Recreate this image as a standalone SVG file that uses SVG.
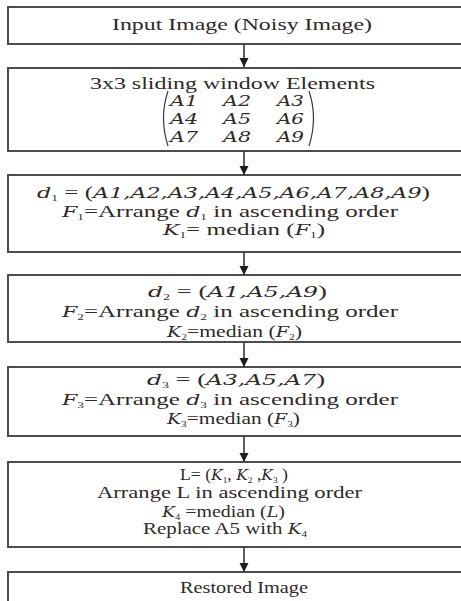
<svg xmlns="http://www.w3.org/2000/svg" width="461" height="601" viewBox="0 0 461 601">
<defs>
<style>
.box{fill:#fff;stroke:#3a3a3a;stroke-width:1.8}
.t{font-family:"Liberation Serif","Times New Roman",serif;font-size:17px;fill:#2e2a26}
.m{font-family:"DejaVu Serif","Liberation Serif",serif;font-style:italic;font-size:15px}
.s{font-size:9px}
.c{stroke:#2a2a2a;stroke-width:1.5;fill:none}
.p{stroke:#3a3a3a;stroke-width:1.2;fill:none}
</style>
<marker id="ah" markerUnits="userSpaceOnUse" markerWidth="10" markerHeight="10" refX="9" refY="5" orient="auto">
<path d="M0,0.5 L9,5 L0,9.5 Z" fill="#1e1e1e"/>
</marker>
</defs>
<rect width="461" height="601" fill="#fff"/>

<g id="connectors">
<line class="c" x1="244" y1="44" x2="244" y2="67" marker-end="url(#ah)"/>
<line class="c" x1="244" y1="151" x2="244" y2="175" marker-end="url(#ah)"/>
<line class="c" x1="244" y1="252" x2="244" y2="275" marker-end="url(#ah)"/>
<line class="c" x1="244" y1="342" x2="244" y2="367" marker-end="url(#ah)"/>
<line class="c" x1="244" y1="436" x2="244" y2="462" marker-end="url(#ah)"/>
<line class="c" x1="244" y1="547" x2="244" y2="572" marker-end="url(#ah)"/>
</g>

<g id="input">
<rect class="box" x="8" y="7" width="470" height="37"/>
<text class="t" x="112" y="30" textLength="260" lengthAdjust="spacingAndGlyphs">Input Image (Noisy Image)</text>
</g>

<g id="window">
<rect class="box" x="8" y="68" width="470" height="83"/>
<text class="t" x="90" y="89" textLength="285" lengthAdjust="spacingAndGlyphs">3x3 sliding window Elements</text>
<path class="p" d="M168,91 Q159,118 168,146"/>
<path class="p" d="M309,91 Q318,118 309,146"/>
<g class="t">
<text class="m" x="170" y="106" textLength="28" lengthAdjust="spacingAndGlyphs">A1</text>
<text class="m" x="223" y="106" textLength="28" lengthAdjust="spacingAndGlyphs">A2</text>
<text class="m" x="277" y="106" textLength="27" lengthAdjust="spacingAndGlyphs">A3</text>
<text class="m" x="170" y="124" textLength="28" lengthAdjust="spacingAndGlyphs">A4</text>
<text class="m" x="223" y="124" textLength="28" lengthAdjust="spacingAndGlyphs">A5</text>
<text class="m" x="277" y="124" textLength="27" lengthAdjust="spacingAndGlyphs">A6</text>
<text class="m" x="170" y="142" textLength="28" lengthAdjust="spacingAndGlyphs">A7</text>
<text class="m" x="223" y="142" textLength="28" lengthAdjust="spacingAndGlyphs">A8</text>
<text class="m" x="277" y="142" textLength="27" lengthAdjust="spacingAndGlyphs">A9</text>
</g>
</g>

<g id="step1">
<rect class="box" x="8" y="175" width="470" height="77"/>
<text class="t" x="37" y="198" textLength="393" lengthAdjust="spacingAndGlyphs"><tspan class="m">d</tspan><tspan class="s" dy="3">1</tspan><tspan dy="-3"> = (</tspan><tspan class="m">A1,A2,A3,A4,A5,A6,A7,A8,A9</tspan>)</text>
<text class="t" x="62" y="217" textLength="336" lengthAdjust="spacingAndGlyphs"><tspan class="m">F</tspan><tspan class="s" dy="3">1</tspan><tspan dy="-3">=Arrange  </tspan><tspan class="m">d</tspan><tspan class="s" dy="3">1</tspan><tspan dy="-3"> in ascending order</tspan></text>
<text class="t" x="163" y="235" textLength="162" lengthAdjust="spacingAndGlyphs"><tspan class="m">K</tspan><tspan class="s" dy="3">1</tspan><tspan dy="-3">= median (</tspan><tspan class="m">F</tspan><tspan class="s" dy="3">1</tspan><tspan dy="-3">)</tspan></text>
</g>

<g id="step2">
<rect class="box" x="8" y="275" width="470" height="67"/>
<text class="t" x="148" y="297" textLength="179" lengthAdjust="spacingAndGlyphs"><tspan class="m">d</tspan><tspan class="s" dy="3">2</tspan><tspan dy="-3"> = (</tspan><tspan class="m">A1,A5,A9</tspan>)</text>
<text class="t" x="62" y="317" textLength="336" lengthAdjust="spacingAndGlyphs"><tspan class="m">F</tspan><tspan class="s" dy="3">2</tspan><tspan dy="-3">=Arrange  </tspan><tspan class="m">d</tspan><tspan class="s" dy="3">2</tspan><tspan dy="-3"> in ascending order</tspan></text>
<text class="t" x="167" y="337" textLength="135" lengthAdjust="spacingAndGlyphs"><tspan class="m">K</tspan><tspan class="s" dy="3">2</tspan><tspan dy="-3">=median (</tspan><tspan class="m">F</tspan><tspan class="s" dy="3">2</tspan><tspan dy="-3">)</tspan></text>
</g>

<g id="step3">
<rect class="box" x="8" y="367" width="470" height="69"/>
<text class="t" x="147" y="385" textLength="178" lengthAdjust="spacingAndGlyphs"><tspan class="m">d</tspan><tspan class="s" dy="3">3</tspan><tspan dy="-3"> = (</tspan><tspan class="m">A3,A5,A7</tspan>)</text>
<text class="t" x="62" y="405" textLength="336" lengthAdjust="spacingAndGlyphs"><tspan class="m">F</tspan><tspan class="s" dy="3">3</tspan><tspan dy="-3">=Arrange  </tspan><tspan class="m">d</tspan><tspan class="s" dy="3">3</tspan><tspan dy="-3"> in ascending order</tspan></text>
<text class="t" x="167" y="424" textLength="133" lengthAdjust="spacingAndGlyphs"><tspan class="m">K</tspan><tspan class="s" dy="3">3</tspan><tspan dy="-3">=median (</tspan><tspan class="m">F</tspan><tspan class="s" dy="3">3</tspan><tspan dy="-3">)</tspan></text>
</g>

<g id="step4">
<rect class="box" x="8" y="462" width="470" height="85"/>
<text class="t" x="180" y="480" textLength="108" lengthAdjust="spacingAndGlyphs">L= (<tspan class="m">K</tspan><tspan class="s" dy="3">1</tspan><tspan dy="-3">, </tspan><tspan class="m">K</tspan><tspan class="s" dy="3">2</tspan><tspan dy="-3"> ,</tspan><tspan class="m">K</tspan><tspan class="s" dy="3">3</tspan><tspan dy="-3"> )</tspan></text>
<text class="t" x="97" y="498" textLength="265" lengthAdjust="spacingAndGlyphs">Arrange L in ascending order</text>
<text class="t" x="162" y="517" textLength="123" lengthAdjust="spacingAndGlyphs"><tspan class="m">K</tspan><tspan class="s" dy="3">4</tspan><tspan dy="-3"> =median (</tspan><tspan class="m">L</tspan>)</text>
<text class="t" x="143" y="534" textLength="164" lengthAdjust="spacingAndGlyphs">Replace A5 with <tspan class="m">K</tspan><tspan class="s" dy="3">4</tspan></text>
</g>

<g id="output">
<rect class="box" x="8" y="572" width="470" height="40"/>
<text class="t" x="180" y="593" textLength="128" lengthAdjust="spacingAndGlyphs">Restored Image</text>
</g>
</svg>
